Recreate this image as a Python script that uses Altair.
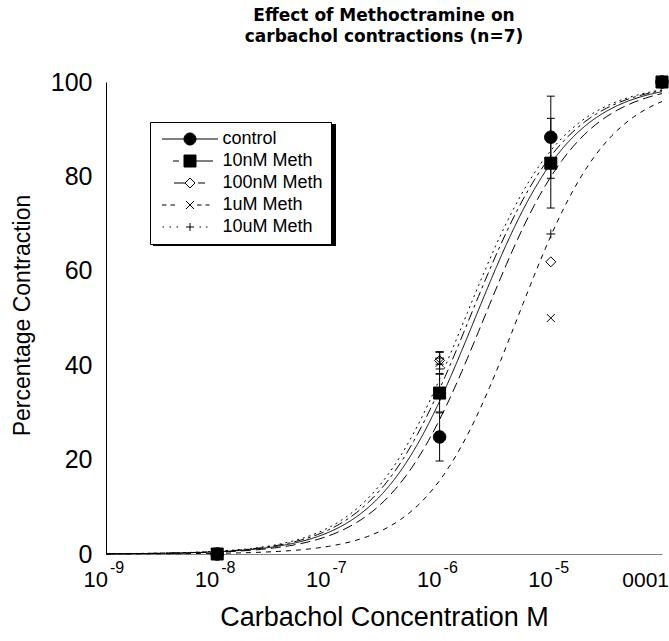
import altair as alt
import numpy as np
import pandas as pd

FONT = "Liberation Sans"

# ---------------- data ----------------
series = ["control", "10nM Meth", "100nM Meth", "1uM Meth", "10uM Meth"]
conc = [1e-8, 1e-6, 1e-5, 1e-4]

control_mean = [0, 24.8, 88.3, 100]
control_sem = [0, 5.1, 8.7, 0]
meth10n_mean = [0, 34.1, 82.8, 100]
meth10n_sem = [0, 4.0, 9.5, 0]
meth100n_mean = [0, 41.0, 61.9, 100]
meth100n_sem = [0, 1.8, 0, 0]
meth1u_mean = [0, 40.5, 50.0, 100]
meth1u_sem = [0, 2.3, 0, 0]
meth10u_mean = [0, 41.5, 67.8, 100]
meth10u_sem = [0, 1.3, 0, 0]

# fitted sigmoid (Hill) parameters
fit_log_ec50 = [-5.68, -5.60, -5.73, -5.30, -5.77]
fit_hill = [1.0, 1.0, 1.0, 1.05, 1.0]

tick_conc = [1e-9, 1e-8, 1e-7, 1e-6, 1e-5]
tick_exp = ["-9", "-8", "-7", "-6", "-5"]
last_tick = [1e-4]
last_label = ["0001"]

# ---------------- tables ----------------
means = [control_mean, meth10n_mean, meth100n_mean, meth1u_mean, meth10u_mean]
sems = [control_sem, meth10n_sem, meth100n_sem, meth1u_sem, meth10u_sem]
rows = []
for s, m, e in zip(series, means, sems):
    for c, mv, ev in zip(conc, m, e):
        rows.append({"series": s, "conc": c, "pct": mv, "lo": mv - ev, "hi": mv + ev, "sem": ev})
pts = pd.DataFrame(rows)
errs = pts[pts["sem"] > 0].copy()
caps = pd.concat([
    errs[["series", "conc"]].assign(pct=errs["lo"]),
    errs[["series", "conc"]].assign(pct=errs["hi"]),
])

grid = np.arange(-9.0, -3.999, 0.05)
crows = []
for s, ec, n in zip(series, fit_log_ec50, fit_hill):
    for lx in grid:
        crows.append({"series": s, "conc": 10 ** lx, "pct": 100.0 / (1.0 + 10 ** ((ec - lx) * n))})
curves = pd.DataFrame(crows)

ticks = pd.DataFrame({"conc": tick_conc, "exp": tick_exp})
lastt = pd.DataFrame({"conc": last_tick, "lab": last_label})

# ---------------- encodings ----------------
xscale = alt.Scale(type="log", domain=[1e-9, 1e-4], nice=False)
yscale = alt.Scale(domain=[0, 100], nice=False)

x_axis = alt.Axis(labels=False, ticks=False, grid=False, domainColor="#808080",
                  title="Carbachol Concentration M", titleFontSize=27,
                  titleFontWeight="normal", titleFont=FONT, titleColor="black",
                  titleBaseline="alphabetic", titleY=71)
y_axis = alt.Axis(values=[0, 20, 40, 60, 80, 100], ticks=False, grid=False,
                  domainColor="black", labelFontSize=25, labelFont=FONT,
                  labelColor="black", labelPadding=14,
                  title="Percentage Contraction", titleFontSize=23,
                  titleFontWeight="normal", titleFont=FONT, titleColor="black",
                  titleX=-72, titleY=233)

X = alt.X("conc:Q", scale=xscale, axis=x_axis)
def Y(field):
    return alt.Y(field, scale=yscale, axis=y_axis)

marker_paths = [
    "M-1.25,0A1.25,1.25,0,1,1,1.25,0A1.25,1.25,0,1,1,-1.25,0Z",
    "M-1.2,-1.2H1.2V1.2H-1.2Z",
    "M0,-1L1,0L0,1L-1,0Z",
    "M-0.8,-0.8L0.8,0.8M-0.8,0.8L0.8,-0.8",
    "M-0.9,0H0.9M0,-0.9V0.9",
]
marker_fills = ["black", "black", "transparent", "transparent", "transparent"]

legend_paths = [
    "M-5.6,0H-1.2M1.2,0H5.6M-1.2,0A1.2,1.2,0,1,1,1.2,0A1.2,1.2,0,1,1,-1.2,0Z",
    "M-3.4,0H-2.2M-1.2,-1.2H1.2V1.2H-1.2ZM1.2,0H4.6",
    "M-3.2,0H-1M0,-1L1,0L0,1L-1,0ZM1.6,0H3.0",
    "M-5.6,0H-4.7M-3.9,0H-3.0M-0.8,-0.8L0.8,0.8M-0.8,0.8L0.8,-0.8M1.4,0H2.3M3.1,0H3.9",
    "M-5.5,0H-5.2M-4.1,0H-3.8M-2.7,0H-2.4M-0.8,0H0.8M0,-0.8V0.8M1.9,0H2.2M3.2,0H3.5",
]

dashes = [[1, 0], [10, 5], [10, 4, 3, 4], [5, 5], [2, 4]]

shadow = alt.Chart(pd.DataFrame({"a": [0]})).mark_rect(color="black").encode(
    x=alt.value(47), x2=alt.value(230), y=alt.value(42), y2=alt.value(164)
)

curve_layer = alt.Chart(curves).mark_line(color="black", strokeWidth=1).encode(
    x=X, y=Y("pct:Q"),
    strokeDash=alt.StrokeDash("series:N", scale=alt.Scale(domain=series, range=dashes), legend=None),
    detail="series:N",
    order="conc:Q",
)

err_layer = alt.Chart(errs).mark_rule(color="black", strokeWidth=1).encode(
    x=X, y=Y("lo:Q"), y2="hi:Q"
)

cap_layer = alt.Chart(caps).mark_point(
    shape="M-1,0H1", size=64, stroke="black", strokeWidth=1, filled=False, opacity=1
).encode(x=X, y=Y("pct:Q"))

point_layer = alt.Chart(pts).mark_point(
    filled=True, size=100, stroke="black", strokeWidth=1, opacity=1
).encode(
    x=X, y=Y("pct:Q"),
    shape=alt.Shape("series:N", scale=alt.Scale(domain=series, range=marker_paths), legend=None),
    fill=alt.Fill("series:N", scale=alt.Scale(domain=series, range=marker_fills), legend=None),
)

leg = alt.Legend(
    orient="none", legendX=44, legendY=40, title=None,
    fillColor="white", strokeColor="black", padding=8,
    labelFontSize=18, labelFont=FONT, labelColor="black",
    symbolSize=100, symbolStrokeWidth=1, rowPadding=4,
    symbolOffset=23, labelOffset=23.5,
)
legend_layer = alt.Chart(pts).transform_filter(alt.datum.pct < -1000).mark_point(
    filled=True, size=100, strokeWidth=1, opacity=1
).encode(
    x=X, y=Y("pct:Q"),
    shape=alt.Shape("series:N", scale=alt.Scale(domain=series, range=legend_paths), legend=leg),
    fill=alt.Fill("series:N", scale=alt.Scale(domain=series, range=marker_fills), legend=leg),
    stroke=alt.Stroke("series:N", scale=alt.Scale(domain=series, range=["black"] * 5), legend=leg),
)

base_lab = alt.Chart(ticks).mark_text(
    text="10", fontSize=22, font=FONT, align="right", baseline="alphabetic", dx=2, color="black"
).encode(x=X, y=alt.value(505))
exp_lab = alt.Chart(ticks).mark_text(
    fontSize=16, font=FONT, align="left", baseline="alphabetic", dx=4, color="black"
).encode(x=X, y=alt.value(491), text="exp:N")
last_lab = alt.Chart(lastt).mark_text(
    fontSize=21, font=FONT, align="right", baseline="alphabetic", dx=7, color="black"
).encode(x=X, y=alt.value(505), text="lab:N")

chart = alt.layer(
    shadow, curve_layer, err_layer, cap_layer, point_layer, legend_layer,
    base_lab, exp_lab, last_lab
).resolve_scale(
    shape="independent", fill="independent", stroke="independent"
).properties(
    width=556, height=472,
    title=alt.TitleParams(
        text=["Effect of Methoctramine on", "carbachol contractions (n=7)"],
        fontSize=17, fontWeight="bold", font="DejaVu Sans", lineHeight=21, offset=24,
        anchor="middle", color="black",
    ),
    autosize=alt.AutoSizeParams(type="none"),
    padding={"left": 106, "top": 82, "right": 7, "bottom": 87},
    background="white",
).configure_view(stroke=None)

chart.save("out.html", embed_options={"renderer": "svg", "actions": False})
